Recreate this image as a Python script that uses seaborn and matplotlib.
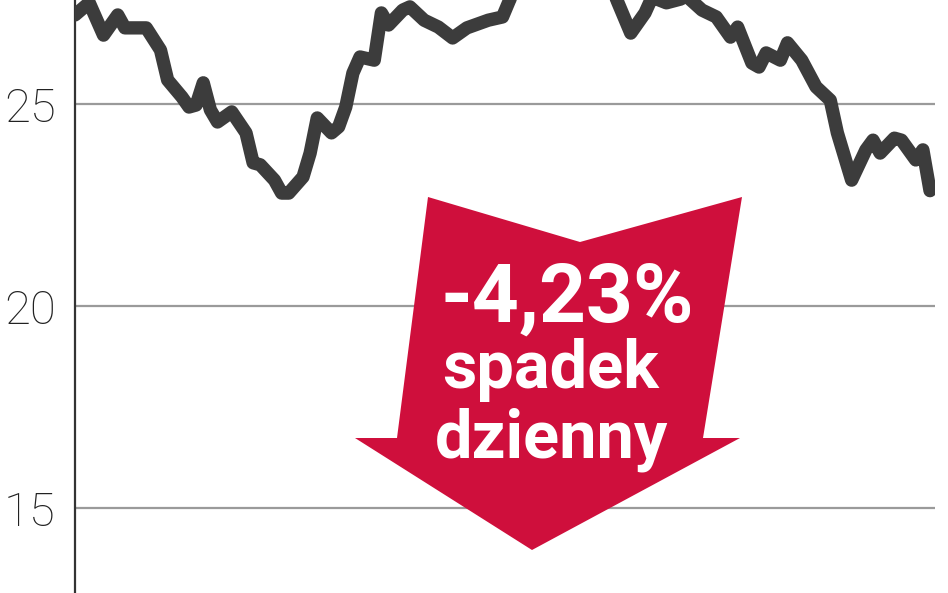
import numpy as np
import pandas as pd
import matplotlib
matplotlib.use("Agg")
import matplotlib.pyplot as plt
from matplotlib.patches import Polygon
import seaborn as sns

# ── Data (session index, closing price) ─────────────
days = [0, 2, 4, 6, 7, 10, 12, 13, 15, 16, 17, 18, 19, 20, 22, 24, 25, 26, 28, 29,
        30, 32, 33, 34, 36, 37, 38, 39, 40, 42, 43, 44, 46, 47, 49, 51, 53, 55, 58, 60,
        61, 62, 64, 66, 68, 70, 72, 74, 76, 78, 80, 81, 83, 86, 88, 90, 92, 93, 95, 96,
        97, 99, 100, 102, 104, 106, 107, 109, 111, 112, 113, 115, 116, 118, 119, 120]
prices = [27.21, 27.51, 26.71, 27.21, 26.89, 26.89, 26.34, 25.60, 25.18, 24.93,
          24.98, 25.53, 24.86, 24.56, 24.81, 24.29, 23.55, 23.50, 23.12, 22.80,
          22.80, 23.20, 23.79, 24.66, 24.29, 24.44, 24.93, 25.77, 26.17, 26.09,
          27.26, 26.96, 27.33, 27.41, 27.08, 26.91, 26.64, 26.89, 27.08, 27.16,
          27.58, 27.90, 28.30, 28.00, 28.50, 28.70, 28.40, 28.10, 27.60, 26.76,
          27.26, 27.65, 27.51, 27.65, 27.33, 27.16, 26.66, 26.91, 26.02, 25.92,
          26.27, 26.09, 26.52, 26.09, 25.43, 25.10, 24.29, 23.12, 23.87, 24.11,
          23.79, 24.16, 24.11, 23.62, 23.87, 22.86]
yticks = [15, 20, 25]
change_label = "-4,23%"
caption_lines = ["spadek", "dzienny"]

df = pd.DataFrame({"day": days, "price": prices})

sns.set_style("white")
plt.rcParams["font.family"] = ["Roboto", "DejaVu Sans"]

W, H = 948, 593
fig = plt.figure(figsize=(W / 100, H / 100), dpi=100)
ax = fig.add_axes([75 / W, 0, (935 - 75) / W, 1])

# ── Price line ──────────────────────────────
for y in yticks:
    ax.axhline(y, color="#9a9a9a", lw=1.6, zorder=1)
sns.lineplot(data=df, x="day", y="price", ax=ax, color="#3c3c3c", lw=9.6,
             solid_joinstyle="round", solid_capstyle="round", zorder=3)

ax.set_xlim(0, 120.7)
ax.set_ylim(12.90, 27.58)
ax.set_yticks(yticks)
ax.set_yticklabels([str(t) for t in yticks], fontsize=34, fontweight="light",
                   color="#222222")
ax.tick_params(axis="y", length=0, pad=14)
ax.set_xticks([])
ax.set_xlabel("")
ax.set_ylabel("")
for side in ["top", "right", "bottom"]:
    ax.spines[side].set_visible(False)
ax.spines["left"].set_color("#333333")
ax.spines["left"].set_linewidth(1.6)

# ── Red arrow annotation ────────────────────
arrow_px = [(428, 197), (580, 242), (742, 197), (703, 438), (740, 438),
            (532, 550), (355, 438), (397, 438)]
arrow = Polygon([(x / W, 1 - y / H) for x, y in arrow_px], closed=True,
                transform=fig.transFigure, facecolor="#cf0f3c",
                edgecolor="none", zorder=5)
fig.patches.append(arrow)

fig.text(567 / W, 1 - 322 / H, change_label, color="white", fontsize=59,
         fontweight="bold", ha="center", va="baseline", zorder=6)
fig.text(550 / W, 1 - 388 / H, caption_lines[0], color="white", fontsize=48,
         fontweight="bold", ha="center", va="baseline", zorder=6)
fig.text(552 / W, 1 - 458 / H, caption_lines[1], color="white", fontsize=48,
         fontweight="bold", ha="center", va="baseline", zorder=6)

plt.savefig("out.png", dpi=100)
